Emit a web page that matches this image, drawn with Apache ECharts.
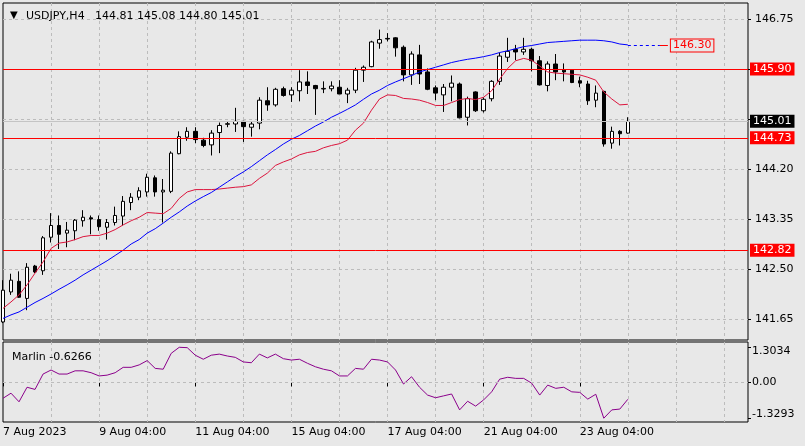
<!DOCTYPE html>
<html>
<head>
<meta charset="utf-8">
<script src="https://cdn.jsdelivr.net/npm/echarts@6/dist/echarts.min.js"></script>
<style>
html,body{margin:0;padding:0;background:#e8e8e8;}
#c{width:805px;height:446px;}
</style>
</head>
<body>
<div id="c"></div>
<script>
// ---- data (USDJPY H4) ----
const tradingDays = [7,8,9,10,11,14,15,16,17,18,21,22,23,24,25,28];
const barHours = ['00:00','04:00','08:00','12:00','16:00','20:00'];
const tickLabels = ['7 Aug 2023','9 Aug 04:00','11 Aug 04:00','15 Aug 04:00','17 Aug 04:00','21 Aug 04:00','23 Aug 04:00'];

const opens  = [141.60,142.11,142.29,142.00,142.55,142.47,143.04,143.24,143.11,143.15,143.32,143.37,143.34,143.21,143.29,143.40,143.63,143.72,143.81,144.05,143.81,143.82,144.46,144.74,144.84,144.69,144.61,144.82,144.96,144.965,145.01,144.91,144.98,145.36,145.29,145.565,145.46,145.53,145.68,145.62,145.56,145.565,145.59,145.475,145.54,145.88,145.94,146.34,146.42,146.43,146.27,145.80,146.14,145.85,145.58,145.46,145.59,145.645,145.08,145.51,145.19,145.395,145.69,146.10,146.235,146.19,146.235,146.04,145.62,145.985,145.88,145.88,145.70,145.645,145.37,145.52,144.64,144.84,144.81];
const closes = [142.14,142.31,142.02,142.53,142.45,143.03,143.24,143.09,143.16,143.33,143.38,143.35,143.22,143.29,143.41,143.65,143.72,143.83,144.06,143.81,143.84,144.47,144.75,144.84,144.70,144.60,144.81,144.94,144.97,145.01,144.92,144.965,145.37,145.29,145.555,145.45,145.54,145.68,145.62,145.565,145.57,145.61,145.475,145.54,145.88,145.93,146.36,146.40,146.41,146.26,145.80,146.155,145.815,145.555,145.49,145.59,145.66,145.07,145.395,145.19,145.385,145.69,146.12,146.20,146.19,146.235,146.04,145.63,145.985,145.85,145.85,145.67,145.66,145.36,145.49,144.625,144.84,144.80,145.01];
const lows   = [141.58,142.06,142.01,141.80,142.43,142.40,142.95,142.84,142.87,142.99,143.22,143.09,143.15,143.00,143.24,143.24,143.50,143.67,143.73,143.73,143.29,143.79,144.45,144.68,144.64,144.57,144.43,144.47,144.91,144.83,144.66,144.75,144.875,145.19,145.26,145.43,145.34,145.35,145.475,145.12,145.49,145.52,145.475,145.32,145.49,145.68,145.93,146.245,146.37,146.11,145.69,145.63,145.645,145.54,145.37,145.17,145.35,145.06,144.94,145.17,145.16,145.35,145.63,146.02,146.05,146.14,145.86,145.62,145.52,145.71,145.69,145.66,145.59,145.29,145.25,144.58,144.545,144.60,144.80];
const highs  = [142.31,142.42,142.46,142.60,142.57,143.06,143.45,143.41,143.30,143.35,143.50,143.41,143.41,143.35,143.56,143.74,143.79,143.89,144.12,144.09,144.03,144.50,144.84,144.91,144.91,144.73,144.86,144.99,145.01,145.24,145.02,145.00,145.42,145.59,145.58,145.60,145.59,145.88,145.86,145.63,145.69,145.69,145.71,145.58,145.92,145.96,146.38,146.57,146.51,146.44,146.30,146.20,146.31,145.91,145.62,145.645,145.79,145.67,145.43,145.52,145.42,145.71,146.18,146.43,146.31,146.43,146.26,146.12,146.03,146.155,145.995,145.89,145.77,145.70,145.62,145.53,144.92,144.86,145.08];

const maFast = [141.83,141.94,142.06,142.23,142.43,142.62,142.85,142.94,142.96,143.00,143.05,143.07,143.07,143.11,143.17,143.25,143.32,143.38,143.46,143.45,143.44,143.53,143.70,143.81,143.85,143.85,143.85,143.86,143.875,143.89,143.90,143.93,144.04,144.13,144.26,144.32,144.37,144.44,144.48,144.50,144.56,144.60,144.63,144.69,144.86,144.98,145.20,145.39,145.46,145.45,145.40,145.39,145.37,145.33,145.28,145.28,145.33,145.38,145.40,145.38,145.42,145.53,145.73,145.91,146.04,146.08,146.05,145.95,145.85,145.83,145.82,145.81,145.80,145.76,145.71,145.51,145.39,145.29,145.30];
const maSlow = [141.66,141.72,141.77,141.85,141.93,142.00,142.075,142.155,142.23,142.31,142.40,142.48,142.56,142.64,142.73,142.82,142.925,143.00,143.11,143.185,143.28,143.38,143.47,143.57,143.655,143.73,143.80,143.89,143.98,144.07,144.15,144.24,144.34,144.44,144.53,144.625,144.705,144.77,144.85,144.93,145.00,145.08,145.145,145.215,145.29,145.385,145.475,145.54,145.62,145.68,145.735,145.79,145.85,145.89,145.93,145.97,146.01,146.04,146.065,146.085,146.11,146.14,146.18,146.21,146.245,146.28,146.30,146.325,146.35,146.36,146.37,146.38,146.39,146.39,146.39,146.38,146.36,146.325,146.31];
const marlin = [-0.59,-0.40,-0.72,-0.18,-0.26,0.31,0.46,0.31,0.31,0.43,0.43,0.36,0.24,0.27,0.36,0.56,0.56,0.65,0.81,0.52,0.49,1.08,1.3034,1.29,1.01,0.86,1.01,1.05,0.98,0.93,0.76,0.73,1.05,0.91,1.05,0.88,0.83,0.86,0.71,0.58,0.49,0.43,0.24,0.24,0.52,0.49,0.86,0.83,0.76,0.46,-0.06,0.21,-0.18,-0.47,-0.57,-0.50,-0.43,-1.02,-0.70,-0.88,-0.65,-0.35,0.12,0.19,0.15,0.15,-0.03,-0.47,-0.10,-0.22,-0.18,-0.35,-0.37,-0.62,-0.44,-1.3293,-1.02,-0.99,-0.6266];

const levelLines = [145.90, 144.73, 142.82];
const bidPrice = 145.01;
const targetLevel = 146.30;
const priceTicks = [141.65, 142.50, 143.35, 144.20, 145.05, 145.90, 146.75];
const priceLabels = [141.65, 142.50, 143.35, 144.20, 146.75];
const marlinTicks = [-1.3293, 0, 1.3034];
const titleText = 'USDJPY,H4   144.81 145.08 144.80 145.01';
const marlinText = 'Marlin -0.6266';

// ---- build ----
const allSlots = [];
tradingDays.forEach(d => barHours.forEach(h => allSlots.push('2023.08.' + d + ' ' + h)));
const categories = allSlots.slice(1, 95); // 94 slots, first bar = 7 Aug 04:00
const candles = opens.map((o, i) => [o, closes[i], lows[i], highs[i]]);

const FONT = 'DejaVu Sans';
const GRID = '#bcbcbc';
const labelIdx = (i) => i % 12 === 0 && i / 12 < tickLabels.length;
const splitIdx = (i) => i % 6 === 0 && i > 0;

const chart = echarts.init(document.getElementById('c'), null, {renderer: 'canvas'});
chart.setOption({
  animation: false,
  backgroundColor: '#e8e8e8',
  title: [
    {text: '▼', left: 5, top: 5, textStyle: {fontSize: 10, fontFamily: FONT, fontWeight: 'normal', color: '#000'}},
    {text: titleText, left: 21, top: 6, textStyle: {fontSize: 11, fontFamily: FONT, fontWeight: 'normal', color: '#000'}},
    {text: marlinText, left: 7, top: 347, textStyle: {fontSize: 11, fontFamily: FONT, fontWeight: 'normal', color: '#000'}}
  ],
  grid: [
    {left: 3, right: 57, top: 3, bottom: 106, show: true, backgroundColor: '#e8e8e8', borderColor: '#000', borderWidth: 1},
    {left: 3, right: 57, top: 342, bottom: 24, show: true, backgroundColor: '#e8e8e8', borderColor: '#000', borderWidth: 1}
  ],
  xAxis: [
    {gridIndex: 0, type: 'category', data: categories, boundaryGap: false,
     axisLine: {show: false}, axisTick: {show: false}, axisLabel: {show: false},
     splitLine: {show: true, interval: splitIdx, lineStyle: {color: GRID, type: [3, 3], width: 1}}},
    {gridIndex: 1, type: 'category', data: categories, boundaryGap: false,
     axisLine: {show: false},
     axisTick: {show: true, interval: labelIdx, length: 4, lineStyle: {color: '#000'}},
     axisLabel: {show: true, interval: labelIdx, formatter: (v, i) => tickLabels[i / 12], align: 'left', margin: 5,
                 fontSize: 11, fontFamily: FONT, color: '#000'},
     splitLine: {show: true, interval: splitIdx, lineStyle: {color: GRID, type: [3, 3], width: 1}}}
  ],
  yAxis: [
    {gridIndex: 0, type: 'value', position: 'right', min: 141.293, max: 147.022, scale: true,
     axisLine: {show: false},
     axisTick: {show: true, length: 3, customValues: priceTicks, lineStyle: {color: '#000'}},
     axisLabel: {customValues: priceLabels, margin: 7, formatter: v => v.toFixed(2), fontSize: 11, fontFamily: FONT, color: '#000'},
     splitLine: {show: true, lineStyle: {color: GRID, type: [3, 3], width: 1}}},
    {gridIndex: 1, type: 'value', position: 'right', min: -1.47, max: 1.50,
     axisLine: {show: false},
     axisTick: {show: true, length: 3, customValues: marlinTicks, lineStyle: {color: '#000'}},
     axisLabel: {customValues: marlinTicks, margin: 4, fontSize: 11, fontFamily: FONT, color: '#000',
       formatter: v => v > 0.5 ? '{t|' + v.toFixed(4) + '}' : (v < -0.5 ? '{b|' + v.toFixed(4) + '}' : v.toFixed(2)),
       rich: {t: {padding: [8, 0, 0, 0], fontSize: 11, fontFamily: FONT, color: '#000'},
              b: {padding: [0, 0, 8, 0], fontSize: 11, fontFamily: FONT, color: '#000'}}},
     splitLine: {show: false}}
  ],
  series: [
    {type: 'candlestick', xAxisIndex: 0, yAxisIndex: 0, data: candles, barWidth: 4, z: 2,
     itemStyle: {color: '#ffffff', color0: '#000000', borderColor: '#000000', borderColor0: '#000000', borderWidth: 1}},
    {type: 'line', xAxisIndex: 0, yAxisIndex: 0, data: maFast, symbol: 'none', z: 3,
     lineStyle: {color: '#dc143c', width: 1}},
    {type: 'line', xAxisIndex: 0, yAxisIndex: 0, data: maSlow, symbol: 'none', z: 3,
     lineStyle: {color: '#0000ff', width: 1},
     markLine: {silent: true, symbol: 'none', animation: false,
       data: [
         [{coord: [maSlow.length - 1, targetLevel], lineStyle: {color: '#0000ff', type: [3, 3], width: 1}, label: {show: false}},
          {coord: [maSlow.length + 3, targetLevel]}],
         [{coord: [maSlow.length + 3, targetLevel], lineStyle: {color: '#ff0000', type: 'solid', width: 1},
           label: {show: true, position: 'end', distance: 3, formatter: targetLevel.toFixed(2), color: '#ff0000',
                   backgroundColor: '#e8e8e8', borderColor: '#ff0000', borderWidth: 1, padding: [1, 2, 0, 2],
                   fontSize: 11, fontFamily: FONT}},
          {coord: [maSlow.length + 4, targetLevel]}]
       ]}},
    {type: 'line', xAxisIndex: 0, yAxisIndex: 0, data: [], z: 4,
     markLine: {silent: true, symbol: 'none', animation: false,
       data: levelLines.map(v => ({yAxis: v, lineStyle: {color: '#ff0000', type: 'solid', width: 1},
         label: {show: true, position: 'end', distance: 2, formatter: v.toFixed(2), color: '#ffffff', backgroundColor: '#ff0000',
                 padding: [1, 3, 1, 3], fontSize: 11, fontFamily: FONT}})).concat([
         {yAxis: bidPrice, lineStyle: {color: '#c4c4c4', type: 'solid', width: 1},
          label: {show: true, position: 'end', distance: 2, formatter: bidPrice.toFixed(2), color: '#ffffff', backgroundColor: '#000000',
                  padding: [1, 3, 1, 3], fontSize: 11, fontFamily: FONT}}])}},
    {type: 'line', xAxisIndex: 1, yAxisIndex: 1, data: marlin, symbol: 'none', z: 3,
     lineStyle: {color: '#8b008b', width: 1},
     markLine: {silent: true, symbol: 'none', animation: false,
       data: [{yAxis: 0, lineStyle: {color: GRID, type: [3, 3], width: 1}, label: {show: false}}]}}
  ]
});
</script>
</body>
</html>
